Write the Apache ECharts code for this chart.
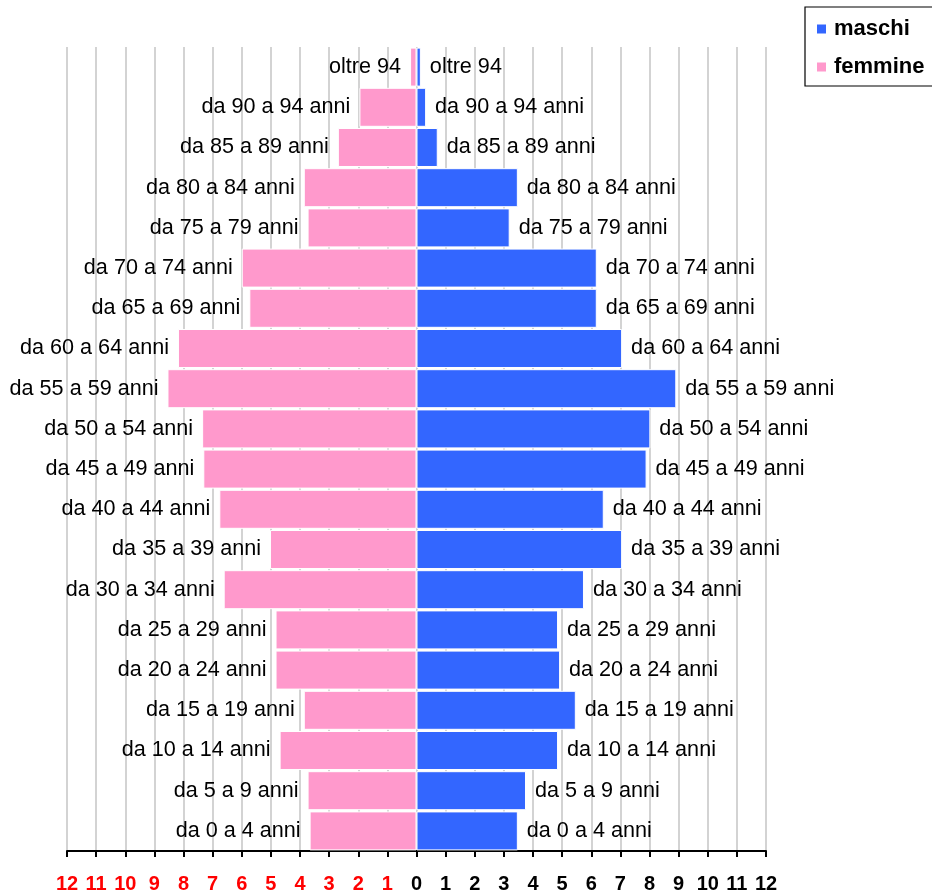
<!DOCTYPE html>
<html>
<head>
<meta charset="utf-8">
<script src="https://cdn.jsdelivr.net/npm/echarts@6/dist/echarts.min.js"></script>
<style>
html,body{margin:0;padding:0;background:#fff;}
#chart{width:932px;height:895px;}
</style>
</head>
<body>
<div id="chart"></div>
<script>
// categories, bottom to top
const categories = ["da 0 a 4 anni","da 5 a 9 anni","da 10 a 14 anni","da 15 a 19 anni","da 20 a 24 anni","da 25 a 29 anni","da 30 a 34 anni","da 35 a 39 anni","da 40 a 44 anni","da 45 a 49 anni","da 50 a 54 anni","da 55 a 59 anni","da 60 a 64 anni","da 65 a 69 anni","da 70 a 74 anni","da 75 a 79 anni","da 80 a 84 anni","da 85 a 89 anni","da 90 a 94 anni","oltre 94"];
const maschi = [3.48,3.76,4.86,5.47,4.93,4.86,5.75,7.06,6.43,7.90,8.03,8.92,7.06,6.19,6.19,3.20,3.48,0.73,0.33,0.15];
const femmine = [3.67,3.74,4.70,3.87,4.84,4.84,6.62,5.03,6.77,7.32,7.36,8.55,8.19,5.74,6.00,3.74,3.87,2.70,1.96,0.22];
const seriesNames = ["maschi","femmine"];
const axisMin = -12, axisMax = 12, axisStep = 1;

const FONT = "'Liberation Sans', Arial, Helvetica, sans-serif";
const chart = echarts.init(document.getElementById('chart'), null, {renderer:'canvas'});
const option = {
  backgroundColor:'#ffffff',
  animation:false,
  textStyle:{fontFamily:FONT},
  legend:{
    data:seriesNames,
    orient:'vertical',
    left:805, top:7,
    padding:[11,14,8,10],
    itemGap:16,
    itemWidth:11, itemHeight:11,
    icon:'rect',
    borderColor:'#000', borderWidth:1.2,
    textStyle:{fontFamily:FONT, fontSize:22, fontWeight:'bold', color:'#000', padding:[0,0,0,2]}
  },
  grid:{left:67, right:166, top:47, bottom:44, containLabel:false},
  xAxis:{
    type:'value', min:axisMin, max:axisMax, interval:axisStep,
    axisLine:{show:true, lineStyle:{color:'#000', width:2}},
    axisTick:{show:true, length:6, lineStyle:{color:'#000', width:2}},
    splitLine:{show:true, lineStyle:{color:'#c8c8c8', width:1.6}},
    axisLabel:{
      margin:23, fontSize:20, fontWeight:'bold', fontFamily:FONT,
      formatter:function(v){return String(Math.abs(v));},
      color:function(v){return Number(v) < 0 ? '#ff0000' : '#000000';}
    }
  },
  yAxis:{
    type:'category', data:categories,
    axisLine:{show:false}, axisTick:{show:false}, axisLabel:{show:false}, splitLine:{show:false}
  },
  series:[
    {
      name:seriesNames[0], type:'bar', data:maschi,
      barCategoryGap:'3%', barGap:'-100%',
      itemStyle:{color:'#3366ff', borderColor:'#ffffff', borderWidth:1},
      label:{show:true, position:'right', distance:9, formatter:'{b}', color:'#000', fontSize:21.6, fontFamily:FONT}
    },
    {
      name:seriesNames[1], type:'bar', data:femmine.map(v=>-v),
      barCategoryGap:'3%', barGap:'-100%',
      itemStyle:{color:'#ff99cc', borderColor:'#ffffff', borderWidth:1},
      label:{show:true, position:'left', distance:9, formatter:'{b}', color:'#000', fontSize:21.6, fontFamily:FONT}
    }
  ]
};
chart.setOption(option);
</script>
</body>
</html>
